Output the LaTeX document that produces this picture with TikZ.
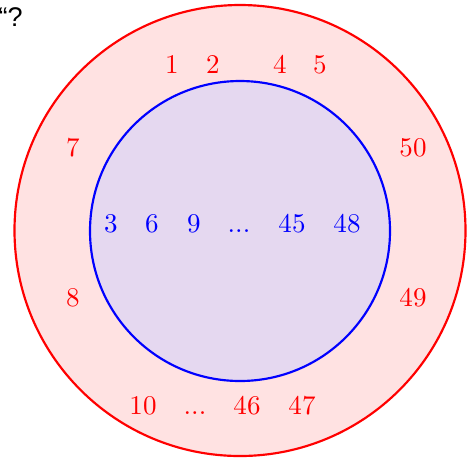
\documentclass[tikz,border=0pt]{standalone}
\usepackage{fontspec}
\newfontfamily\lsans{Liberation Sans}
\begin{document}
\begin{tikzpicture}[x=0.37pt,y=-0.37pt,
  rlab/.style={text=red, inner sep=0pt, anchor=center, text height=6.44pt, text depth=0pt},
  blab/.style={text=blue, inner sep=0pt, anchor=center, text height=6.44pt, text depth=0pt}]
\useasboundingbox (0,0) rectangle (468,457);
\node[draw=red, fill={rgb,255:red,255;green,226;blue,226}, line width=0.8pt, circle, minimum size=451*0.37pt, inner sep=0pt] (outer) at (240,230.5) {};
\node[draw=blue, fill={rgb,255:red,229;green,216;blue,240}, line width=0.8pt, circle, minimum size=300*0.37pt, inner sep=0pt] (inner) at (240,231) {};
\node[anchor=west, inner sep=0pt] (q) at (-2,17) {\lsans “?};
\node[rlab] (n1) at (172,65) {1};
\node[rlab] (n2) at (213,65) {2};
\node[rlab] (n4) at (280,65) {4};
\node[rlab] (n5) at (320,65) {5};
\node[rlab] (n7) at (73,148) {7};
\node[rlab] (n50) at (413,148) {50};
\node[rlab] (n8) at (73,298) {8};
\node[rlab] (n49) at (413,298) {49};
\node[rlab] (n10) at (143,406) {10};
\node[rlab] (nd) at (195,406) {...};
\node[rlab] (n46) at (247,406) {46};
\node[rlab] (n47) at (302,406) {47};
\node[blab] (m3) at (111,224) {3};
\node[blab] (m6) at (152,224) {6};
\node[blab] (m9) at (194,224) {9};
\node[blab] (md) at (239,224) {...};
\node[blab] (m45) at (292,224) {45};
\node[blab] (m48) at (347,224) {48};
\end{tikzpicture}
\end{document}
